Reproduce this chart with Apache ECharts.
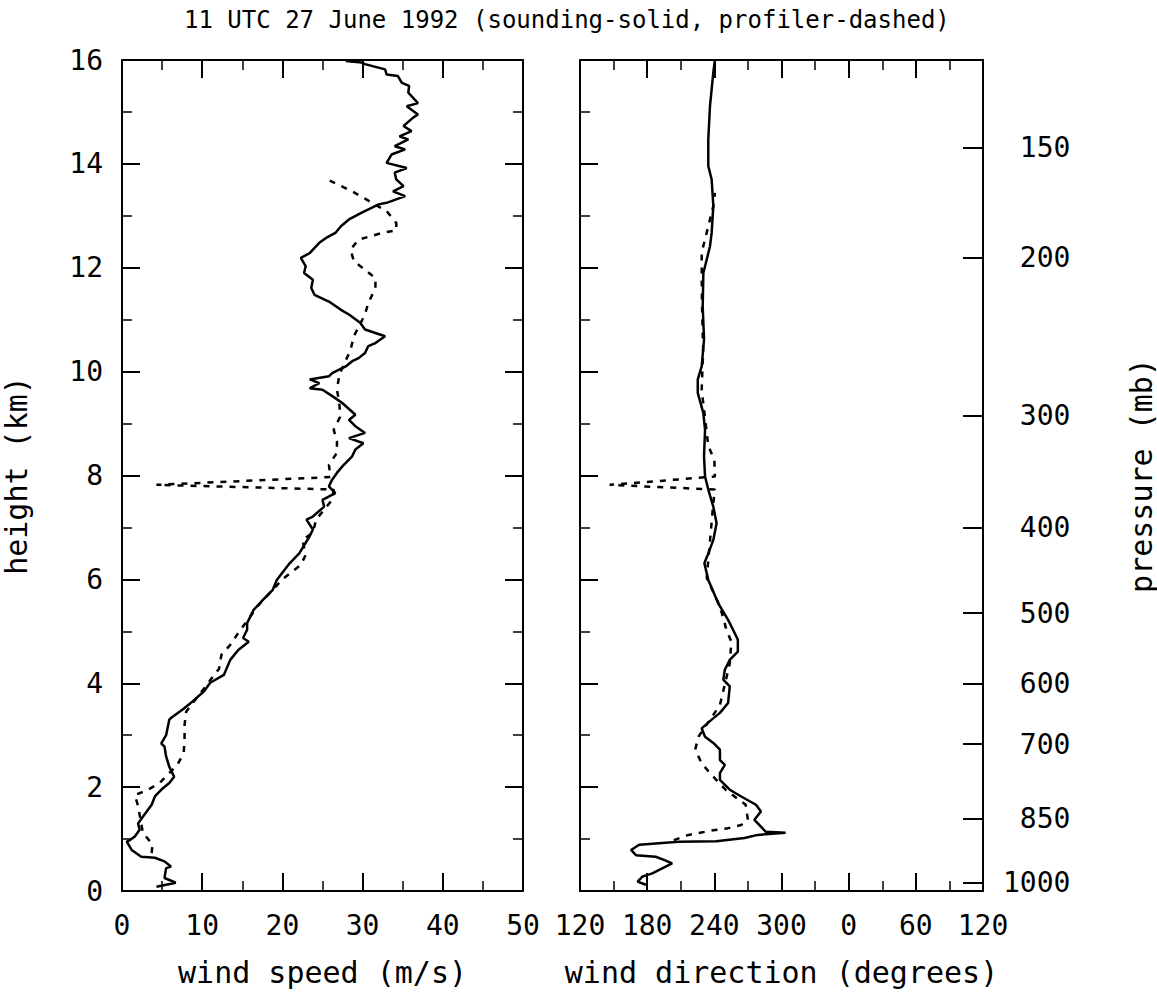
<!DOCTYPE html>
<html>
<head>
<meta charset="utf-8">
<title>wind profile</title>
<script src="https://cdn.jsdelivr.net/npm/echarts@6/dist/echarts.min.js"></script>
<style>
  html, body { margin: 0; padding: 0; background: #fff; }
  #chart { width: 1157px; height: 999px; }
</style>
</head>
<body>
<div id="chart"></div>
<script>
// sounding (solid) wind speed, m/s, with heights in km
const sondeSpeedH = [0.08, 0.16, 0.25, 0.44, 0.47, 0.57, 0.64, 0.66, 0.79, 0.95, 0.98, 1.05, 1.18, 1.30, 1.43, 1.66, 1.82, 1.98, 2.08, 2.20,
  2.39, 2.59, 2.78, 2.84, 3.00, 3.30, 3.33, 3.50, 3.65, 3.84, 4.01, 4.16, 4.45, 4.64, 4.80, 4.87, 5.03, 5.16, 5.22, 5.41,
  5.61, 5.80, 5.99, 6.31, 6.50, 6.83, 6.96, 7.15, 7.21, 7.40, 7.53, 7.66, 7.79, 7.92, 8.05, 8.18, 8.37, 8.50, 8.62, 8.72,
  8.82, 8.95, 9.07, 9.17, 9.39, 9.49, 9.65, 9.68, 9.78, 9.85, 9.91, 9.97, 10.10, 10.20, 10.26, 10.36, 10.49, 10.55, 10.68, 10.81,
  10.94, 11.10, 11.19, 11.35, 11.48, 11.61, 11.77, 11.90, 12.03, 12.19, 12.28, 12.48, 12.57, 12.67, 12.80, 12.93, 13.06, 13.22, 13.25, 13.38,
  13.47, 13.57, 13.70, 13.83, 13.92, 14.02, 14.18, 14.28, 14.34, 14.47, 14.53, 14.63, 14.73, 14.89, 14.95, 15.11, 15.17, 15.37, 15.50, 15.56,
  15.69, 15.72, 15.82, 15.92, 15.95, 15.98];
const sondeSpeed = [4.3, 6.7, 5.3, 5.5, 6.1, 5.3, 4.1, 2.4, 1.2, 0.6, 1.0, 1.6, 2.2, 2.0, 2.6, 3.7, 4.1, 5.1, 5.9, 6.5,
  5.9, 5.5, 5.3, 4.9, 5.5, 5.9, 6.1, 7.6, 8.8, 10.2, 11.0, 12.7, 13.5, 14.5, 15.8, 15.1, 15.6, 15.6, 15.8, 16.4,
  17.6, 18.8, 19.3, 20.9, 22.1, 23.4, 23.8, 23.0, 23.8, 25.2, 25.0, 26.6, 25.8, 26.2, 26.8, 27.5, 28.7, 29.1, 30.1, 28.3,
  30.3, 29.1, 28.3, 29.1, 27.5, 26.6, 25.0, 23.4, 24.6, 23.4, 25.8, 26.2, 27.9, 28.7, 29.5, 30.3, 30.7, 31.6, 32.8, 30.3,
  29.7, 28.3, 27.3, 25.8, 24.0, 23.6, 23.8, 22.7, 22.9, 22.3, 23.4, 24.6, 25.4, 26.6, 27.3, 28.3, 29.9, 32.0, 33.0, 35.3,
  33.8, 35.1, 34.2, 34.0, 35.5, 33.0, 33.6, 35.3, 34.0, 35.7, 34.6, 36.1, 35.1, 36.3, 36.9, 35.5, 36.9, 35.7, 35.8, 34.9,
  34.4, 33.0, 32.8, 30.3, 29.9, 27.9];

// profiler (dashed) wind speed
const profSpeedH = [0.73, 0.90, 1.12, 1.64, 1.85, 1.93, 2.08, 2.43, 2.66, 2.95, 3.20, 3.45, 4.28, 4.55, 4.74, 4.97, 5.50, 6.00, 6.28, 6.47,
  6.76, 6.90, 7.15, 7.53, 7.73, 7.82, 7.97, 8.20, 8.44, 8.66, 8.88, 9.13, 9.40, 9.65, 9.94, 10.42, 10.68, 11.10, 11.32, 11.61,
  11.80, 11.96, 12.13, 12.35, 12.54, 12.67, 12.72, 12.86, 13.09, 13.33, 13.47, 13.70];
const profSpeed = [3.7, 3.8, 2.6, 2.0, 1.6, 3.0, 4.7, 6.9, 7.7, 7.8, 7.8, 8.0, 12.1, 12.4, 13.5, 14.5, 17.0, 20.0, 22.3, 22.9,
  22.5, 23.8, 24.2, 26.2, 26.4, 4.3, 26.0, 25.8, 26.8, 26.8, 26.4, 27.2, 27.1, 26.8, 27.1, 28.5, 28.9, 30.3, 30.7, 31.6,
  31.6, 30.3, 28.9, 28.5, 29.5, 32.4, 34.2, 34.2, 33.0, 30.3, 28.7, 25.6];

// sounding (solid) wind direction, degrees
const sondeDirH = [0.12, 0.18, 0.28, 0.34, 0.47, 0.53, 0.60, 0.66, 0.69, 0.79, 0.89, 0.95, 0.96, 1.02, 1.08, 1.12, 1.14, 1.24, 1.37, 1.53,
  1.66, 1.82, 1.95, 2.14, 2.27, 2.43, 2.52, 2.72, 2.85, 2.97, 3.13, 3.30, 3.43, 3.62, 3.94, 4.07, 4.26, 4.45, 4.61, 4.84,
  5.03, 5.22, 5.54, 5.99, 6.31, 6.50, 6.76, 7.08, 7.40, 7.73, 7.98, 8.37, 8.88, 9.20, 9.59, 9.85, 10.10, 10.62, 11.26, 11.90,
  12.16, 12.41, 12.67, 13.19, 13.70, 13.96, 14.47, 15.11, 15.76, 16.00];
const sondeDir = [178.8, 171.4, 176, 184.6, 196.5, 202.3, 195, 187.6, 170, 165.6, 172.9, 208.2, 241.7, 267, 278.7, 303.7, 286, 281.6, 275.8, 281.6,
  277.2, 264, 253.8, 245, 245, 249.4, 245, 245, 239.1, 231.7, 228.7, 237.6, 245, 252.3, 253.8, 248, 249.4, 253.8, 261, 261,
  256.7, 252.3, 243.5, 234.6, 231.1, 234.6, 239.1, 242.0, 239.1, 234.6, 231.7, 230.8, 231.7, 230.2, 225.2, 225.2, 228.7, 230.8, 229.6, 230.2,
  233.2, 236.1, 237.6, 239.1, 237.6, 234.6, 234.6, 236.1, 239.1, 240.5];

// profiler (dashed) wind direction
const profDirH = [0.98, 1.08, 1.17, 1.21, 1.27, 1.37, 1.66, 1.95, 2.27, 2.46, 2.72, 2.97, 3.58, 4.38, 4.80, 5.03, 5.48, 6.03, 7.47, 7.73,
  7.82, 7.98, 8.30, 8.57, 9.65, 10.40, 11.30, 12.03, 12.29, 13.19, 13.44];
const profDir = [203.8, 217, 239, 252.3, 264, 270, 268, 250, 236.1, 228.7, 222.9, 225.8, 245, 253.8, 255.2, 250.8, 245, 233.2, 239.1, 240.5,
  146.5, 240.5, 240, 234.6, 228.7, 230, 229, 228.7, 228.7, 239.1, 240.5];

// pressure levels (mb) and the heights (km) where they sit on the right axis
const pressureLevels = [1000, 850, 700, 600, 500, 400, 300, 200, 150];
const pressureHeights = [0.16, 1.39, 2.83, 3.99, 5.35, 7.00, 9.15, 12.19, 14.31];

const zip = (xs, hs) => xs.map((x, i) => [x, hs[i]]);

const FONT = 'DejaVu Sans Mono';
const black = '#000';

// shared look of every frame edge
function frameAxis(extra) {
  return Object.assign({
    type: 'value',
    axisLine: { show: true, onZero: false, lineStyle: { color: black, width: 2 } },
    axisTick: { show: true, inside: true, length: 18, lineStyle: { color: black, width: 2 } },
    minorTick: { show: true, splitNumber: 2, length: 10, lineStyle: { color: black, width: 1.5 } },
    splitLine: { show: false },
    axisLabel: { show: false },
  }, extra);
}

const labelStyle = { color: black, fontFamily: FONT, fontSize: 28 };
const nameStyle = { color: black, fontFamily: FONT, fontSize: 30 };

const chart = echarts.init(document.getElementById('chart'), null, { renderer: 'svg' });

chart.setOption({
  backgroundColor: '#fff',
  animation: false,
  title: {
    text: '11 UTC 27 June 1992 (sounding-solid, profiler-dashed)',
    left: 184,
    top: 8,
    padding: 0,
    textStyle: { color: black, fontFamily: FONT, fontSize: 24, fontWeight: 'normal' }
  },
  grid: [
    { left: 117, top: 60, width: 406, height: 831 },
    { left: 580, top: 60, width: 408, height: 831 }
  ],
  xAxis: [
    frameAxis({
      gridIndex: 0, position: 'bottom', min: 0, max: 50, interval: 10,
      axisLabel: Object.assign({ show: true, margin: 20 }, labelStyle),
      name: 'wind speed (m/s)', nameLocation: 'middle', nameGap: 66, nameTextStyle: nameStyle
    }),
    frameAxis({ gridIndex: 0, position: 'top', min: 0, max: 50, interval: 10 }),
    frameAxis({
      gridIndex: 1, position: 'bottom', min: 120, max: 480, interval: 60,
      axisLabel: Object.assign({ show: true, margin: 20, formatter: v => String(v % 360) }, labelStyle),
      name: 'wind direction (degrees)', nameLocation: 'middle', nameGap: 66, nameTextStyle: nameStyle
    }),
    frameAxis({ gridIndex: 1, position: 'top', min: 120, max: 480, interval: 60 })
  ],
  yAxis: [
    frameAxis({
      gridIndex: 0, position: 'left', min: 0, max: 16, interval: 2,
      axisLabel: Object.assign({ show: true, margin: 19 }, labelStyle),
      name: 'height (km)', nameLocation: 'middle', nameGap: 91, nameRotate: 90, nameTextStyle: nameStyle
    }),
    frameAxis({ gridIndex: 0, position: 'right', min: 0, max: 16, interval: 2 }),
    frameAxis({ gridIndex: 1, position: 'left', min: 0, max: 16, interval: 2 }),
    frameAxis({
      gridIndex: 1, position: 'right', min: 0, max: 16,
      axisTick: { show: true, inside: true, length: 20, customValues: pressureHeights, lineStyle: { color: black, width: 2 } },
      minorTick: { show: false },
      axisLabel: Object.assign({
        show: true, margin: 20, customValues: pressureHeights,
        formatter: v => {
          const i = pressureHeights.findIndex(h => Math.abs(h - v) < 1e-6);
          const s = i >= 0 ? String(pressureLevels[i]) : '';
          return s.padStart(4, ' ');
        }
      }, labelStyle),
      name: 'pressure (mb)', nameLocation: 'middle', nameGap: 143, nameRotate: 90, nameTextStyle: nameStyle
    })
  ],
  series: [
    {
      name: 'sounding speed', type: 'line', xAxisIndex: 0, yAxisIndex: 0,
      data: zip(sondeSpeed, sondeSpeedH), showSymbol: false,
      lineStyle: { color: black, width: 2.5 }
    },
    {
      name: 'profiler speed', type: 'line', xAxisIndex: 0, yAxisIndex: 0,
      data: zip(profSpeed, profSpeedH), showSymbol: false,
      lineStyle: { color: black, width: 2.5, type: [6, 7] }
    },
    {
      name: 'sounding direction', type: 'line', xAxisIndex: 2, yAxisIndex: 2,
      data: zip(sondeDir, sondeDirH), showSymbol: false,
      lineStyle: { color: black, width: 2.5 }
    },
    {
      name: 'profiler direction', type: 'line', xAxisIndex: 2, yAxisIndex: 2,
      data: zip(profDir, profDirH), showSymbol: false,
      lineStyle: { color: black, width: 2.5, type: [6, 7] }
    }
  ]
});
</script>
</body>
</html>
